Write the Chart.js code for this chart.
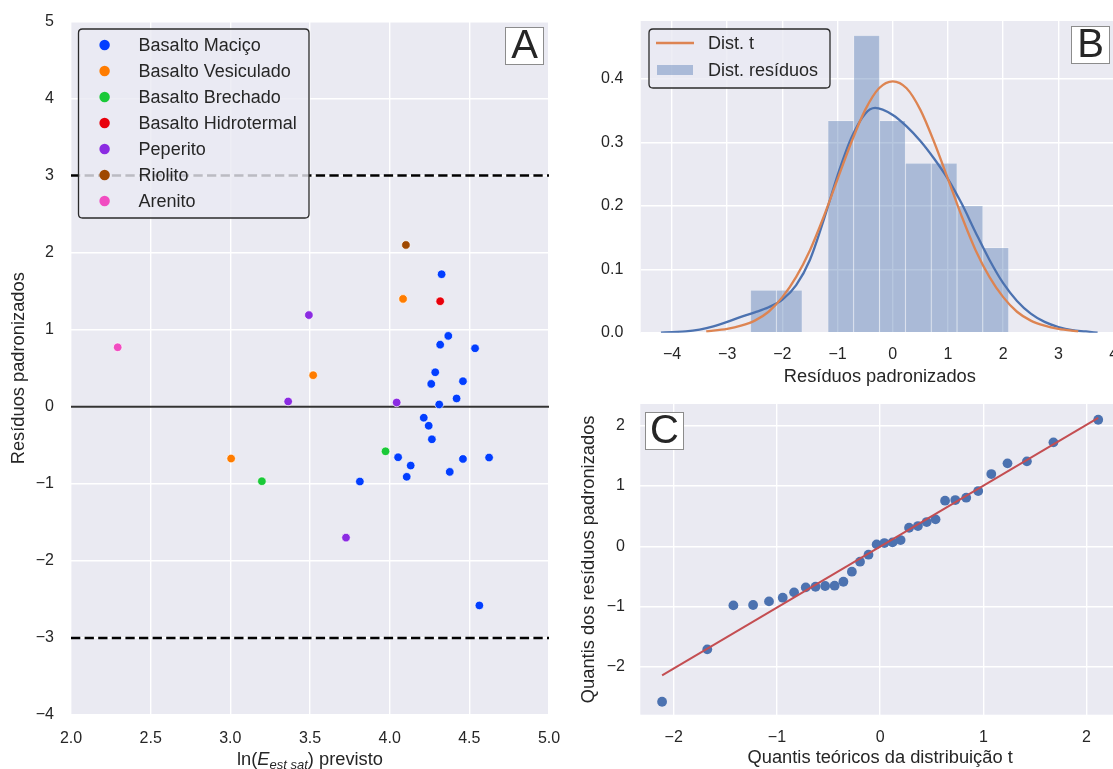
<!DOCTYPE html>
<html lang="pt">
<head>
<meta charset="utf-8">
<title>Resíduos padronizados</title>
<script src="https://cdn.jsdelivr.net/npm/chart.js@4.4.1/dist/chart.umd.min.js"></script>
<style>
  html, body { margin: 0; padding: 0; background: #ffffff; }
  body { width: 1113px; height: 769px; position: relative; overflow: hidden; }
  .painel { position: absolute; }
</style>
</head>
<body>
<div class="painel" style="left:0px; top:0px; width:580px; height:769px;"><canvas id="graficoA"></canvas></div>
<div class="painel" style="left:560px; top:0px; width:572px; height:390px;"><canvas id="graficoB"></canvas></div>
<div class="painel" style="left:560px; top:390px; width:572px; height:379px;"><canvas id="graficoC"></canvas></div>
<script>
// Painel A - residuos padronizados por litologia
var categorias = ['Basalto Maciço', 'Basalto Vesiculado', 'Basalto Brechado', 'Basalto Hidrotermal', 'Peperito', 'Riolito', 'Arenito']
var cores = ['#023EFF', '#FF7C00', '#1AC938', '#E8000B', '#8B2BE2', '#9F4800', '#F14CC1']

var macicoX = [4.326, 4.368, 4.317, 4.536, 4.286, 4.460, 4.261, 4.420, 4.311, 4.214, 4.245, 4.265, 4.053, 4.460, 4.624, 4.132, 4.377, 4.107, 3.813, 4.563]
var macicoY = [1.72, 0.92, 0.806, 0.759, 0.448, 0.332, 0.297, 0.108, 0.03, -0.142, -0.246, -0.422, -0.655, -0.677, -0.659, -0.763, -0.845, -0.909, -0.970, -2.578]
var vesiculadoX = [4.084, 3.520, 3.005]
var vesiculadoY = [1.40, 0.41, -0.672]
var brechadoX = [3.974, 3.198]
var brechadoY = [-0.578, -0.966]
var hidrotermalX = [4.317]
var hidrotermalY = [1.37]
var peperitoX = [3.493, 3.363, 4.044, 3.726]
var peperitoY = [1.19, 0.069, 0.056, -1.698]
var riolitoX = [4.102]
var riolitoY = [2.10]
var arenitoX = [2.293]
var arenitoY = [0.772]

var limites = [3, -3]
var ticksAx = [2.0, 2.5, 3.0, 3.5, 4.0, 4.5, 5.0]
var ticksAy = [-4, -3, -2, -1, 0, 1, 2, 3, 4, 5]

// Painel B - histograma (densidade), KDE e distribuicao t
var bordasBins = [-2.578, -2.110, -1.643, -1.175, -0.707, -0.240, 0.228, 0.696, 1.164, 1.631, 2.099]
var densidades = [0.067, 0.067, 0, 0.334, 0.468, 0.334, 0.267, 0.267, 0.200, 0.134]
var kdeX = [-4.2, -4.0, -3.75, -3.5, -3.25, -3.0, -2.75, -2.5, -2.25, -2.0, -1.75, -1.5, -1.25, -1.0, -0.75, -0.5, -0.32, 0.0, 0.25, 0.5, 0.75, 1.0, 1.25, 1.5, 1.75, 2.0, 2.25, 2.5, 2.75, 3.0, 3.25, 3.5, 3.71]
var kdeY = [0.000, 0.001, 0.002, 0.005, 0.010, 0.017, 0.025, 0.032, 0.040, 0.052, 0.075, 0.115, 0.178, 0.248, 0.307, 0.345, 0.354, 0.343, 0.325, 0.302, 0.274, 0.242, 0.203, 0.158, 0.115, 0.078, 0.050, 0.030, 0.017, 0.009, 0.004, 0.002, 0.000]
var distTX = [-3.38, -3.0, -2.75, -2.5, -2.25, -2.0, -1.75, -1.5, -1.25, -1.0, -0.75, -0.5, -0.25, 0.0, 0.25, 0.5, 0.75, 1.0, 1.25, 1.5, 1.75, 2.0, 2.25, 2.5, 2.75, 3.0, 3.36]
var distTY = [0.002, 0.006, 0.011, 0.019, 0.033, 0.056, 0.088, 0.130, 0.183, 0.242, 0.300, 0.351, 0.385, 0.396, 0.385, 0.351, 0.300, 0.242, 0.183, 0.130, 0.088, 0.056, 0.033, 0.019, 0.011, 0.006, 0.002]
var ticksBx = [-4, -3, -2, -1, 0, 1, 2, 3, 4]
var ticksBy = [0, 0.1, 0.2, 0.3, 0.4]

// Painel C - grafico Q-Q
var quantisT = [-2.113, -1.675, -1.422, -1.231, -1.077, -0.944, -0.834, -0.721, -0.626, -0.533, -0.441, -0.356, -0.274, -0.195, -0.113, -0.034, 0.041, 0.120, 0.198, 0.280, 0.366, 0.451, 0.537, 0.629, 0.728, 0.834, 0.950, 1.077, 1.234, 1.422, 1.679, 2.113]
var quantisRes = [-2.575, -1.707, -0.978, -0.972, -0.912, -0.851, -0.762, -0.680, -0.669, -0.657, -0.652, -0.586, -0.420, -0.254, -0.138, 0.033, 0.055, 0.066, 0.105, 0.309, 0.337, 0.403, 0.448, 0.757, 0.768, 0.807, 0.917, 1.199, 1.376, 1.409, 1.724, 2.099]
var retaX = [-2.113, 2.113]
var retaY = [-2.14, 2.13]
var ticksCx = [-2, -1, 0, 1, 2]
var ticksCy = [-2, -1, 0, 1, 2]

var fonte = '"Liberation Sans", Arial, Helvetica, sans-serif'
var corTexto = '#262626'
Chart.defaults.font.family = fonte
Chart.defaults.color = corTexto

function pontos(xs, ys) {
    return xs.map(function (x, i) { return { x: x, y: ys[i] } })
}

function fmt(v, casas) {
    if (Math.abs(v) < 1e-9) v = 0
    return v.toFixed(casas).replace('-', '\u2212')
}

// eixo linear no estilo seaborn (grade branca, sem borda)
function eixo(cfg) {
    return {
        type: 'linear',
        position: cfg.pos,
        min: cfg.min,
        max: cfg.max,
        offset: false,
        border: { display: false },
        grid: { color: '#ffffff', lineWidth: 1.4, drawTicks: false, offset: false },
        afterBuildTicks: function (s) {
            s.ticks = cfg.ticks.map(function (v) { return { value: v } })
        },
        ticks: {
            padding: cfg.pad, autoSkip: false, maxRotation: 0, minRotation: 0,
            color: corTexto, font: { size: 16 },
            callback: function (v) { return fmt(v, cfg.casas) }
        },
        title: {
            display: !!cfg.titulo, text: cfg.titulo || '', color: corTexto,
            font: { size: 18.3 }, padding: cfg.padTitulo || 0
        },
        afterFit: function (s) {
            if (cfg.pos === 'left') s.width = cfg.tam
            else s.height = cfg.tam
            s.paddingTop = 0; s.paddingBottom = 0; s.paddingLeft = 0; s.paddingRight = 0
        }
    }
}

var fundo = {
    id: 'fundo',
    beforeDraw: function (chart) {
        var a = chart.chartArea, ctx = chart.ctx
        ctx.save()
        ctx.fillStyle = '#EAEAF2'
        ctx.fillRect(a.left, a.top, a.right - a.left, a.bottom - a.top)
        ctx.restore()
    }
}

function retArredondado(ctx, x, y, w, h, r) {
    ctx.beginPath()
    ctx.moveTo(x + r, y)
    ctx.lineTo(x + w - r, y)
    ctx.quadraticCurveTo(x + w, y, x + w, y + r)
    ctx.lineTo(x + w, y + h - r)
    ctx.quadraticCurveTo(x + w, y + h, x + w - r, y + h)
    ctx.lineTo(x + r, y + h)
    ctx.quadraticCurveTo(x, y + h, x, y + h - r)
    ctx.lineTo(x, y + r)
    ctx.quadraticCurveTo(x, y, x + r, y)
    ctx.closePath()
}

function moldura(ctx, x, y, w, h) {
    retArredondado(ctx, x, y, w, h, 4)
    ctx.fillStyle = 'rgba(234,234,242,0.8)'
    ctx.fill()
    ctx.strokeStyle = '#2b2b2b'
    ctx.lineWidth = 1.3
    ctx.stroke()
}

function rotulo(ctx, letra, x, y) {
    ctx.save()
    ctx.fillStyle = '#ffffff'
    ctx.fillRect(x, y, 39, 38)
    ctx.strokeStyle = '#8c8c8c'
    ctx.lineWidth = 1
    ctx.strokeRect(x + 0.5, y + 0.5, 38, 37)
    ctx.fillStyle = corTexto
    ctx.font = '40px ' + fonte
    ctx.textAlign = 'center'
    ctx.textBaseline = 'middle'
    ctx.fillText(letra, x + 19.5, y + 20)
    ctx.restore()
}

// ---------------- Painel A ----------------
var seriesA = [[macicoX, macicoY], [vesiculadoX, vesiculadoY], [brechadoX, brechadoY], [hidrotermalX, hidrotermalY],
    [peperitoX, peperitoY], [riolitoX, riolitoY], [arenitoX, arenitoY]]

var datasetsA = seriesA.map(function (s, i) {
    return {
        type: 'scatter', label: categorias[i], data: pontos(s[0], s[1]),
        backgroundColor: cores[i], borderColor: '#ffffff', borderWidth: 0.7,
        pointRadius: 4.3, order: 0
    }
})
datasetsA.push({
    type: 'line', label: 'zero', data: pontos([ticksAx[0], ticksAx[ticksAx.length - 1]], [0, 0]),
    showLine: true, borderColor: '#333333', borderWidth: 2, pointRadius: 0, order: 5
})
limites.forEach(function (l) {
    datasetsA.push({
        type: 'line', label: 'limite', data: pontos([ticksAx[0], ticksAx[ticksAx.length - 1]], [l, l]),
        showLine: true, borderColor: '#000000', borderWidth: 2.5, borderDash: [9.3, 4.3],
        pointRadius: 0, order: 5
    })
})

var extrasA = {
    id: 'extrasA',
    afterDatasetsDraw: function (chart) {
        var ctx = chart.ctx
        ctx.save()
        moldura(ctx, 78.5, 29, 230.5, 189)
        ctx.font = '18px ' + fonte
        ctx.textBaseline = 'middle'
        chart.data.datasets.forEach(function (d, i) {
            if (d.type !== 'scatter') return
            var y = 45 + i * 26
            ctx.beginPath()
            ctx.arc(104.6, y, 5.2, 0, Math.PI * 2)
            ctx.fillStyle = d.backgroundColor
            ctx.fill()
            ctx.fillStyle = corTexto
            ctx.fillText(d.label, 138.6, y + 1)
        })
        ctx.restore()
    },
    afterDraw: function (chart) {
        var ctx = chart.ctx, a = chart.chartArea
        rotulo(ctx, 'A', 505, 27)
        // titulo do eixo x com subscrito
        var partes = [
            { t: 'ln(', f: '18.3px ' + fonte, dy: 0 },
            { t: 'E', f: 'italic 18.3px ' + fonte, dy: 0 },
            { t: 'est sat', f: 'italic 13px ' + fonte, dy: 4 },
            { t: ') previsto', f: '18.3px ' + fonte, dy: 0 }
        ]
        ctx.save()
        var total = 0
        partes.forEach(function (p) { ctx.font = p.f; p.w = ctx.measureText(p.t).width; total += p.w })
        var x = (a.left + a.right) / 2 - total / 2
        ctx.fillStyle = corTexto
        ctx.textBaseline = 'alphabetic'
        partes.forEach(function (p) {
            ctx.font = p.f
            ctx.fillText(p.t, x, 765 + p.dy)
            x += p.w
        })
        ctx.restore()
    }
}

new Chart(document.getElementById('graficoA'), {
    type: 'scatter',
    data: { datasets: datasetsA },
    options: {
        responsive: true, maintainAspectRatio: false, animation: false,
        layout: { padding: { left: 0, top: 21.5, right: 31, bottom: 0 } },
        plugins: { legend: { display: false }, tooltip: { enabled: false } },
        scales: {
            x: eixo({ pos: 'bottom', min: 2, max: 5, ticks: ticksAx, casas: 1, pad: 13.7, tam: 54 }),
            y: eixo({ pos: 'left', min: -4, max: 5, ticks: ticksAy, casas: 0, pad: 17, tam: 71,
                titulo: 'Resíduos padronizados', padTitulo: { top: 7.8 } })
        }
    },
    plugins: [fundo, extrasA]
})

// ---------------- Painel B ----------------
var centrosBins = densidades.map(function (d, i) { return (bordasBins[i] + bordasBins[i + 1]) / 2 })
var corBarra = 'rgba(76,114,176,0.4)'

var extrasB = {
    id: 'extrasB',
    afterDatasetsDraw: function (chart) {
        var ctx = chart.ctx
        ctx.save()
        moldura(ctx, 89, 29, 181, 59)
        ctx.strokeStyle = '#DD8452'
        ctx.lineWidth = 2.3
        ctx.beginPath()
        ctx.moveTo(96, 43)
        ctx.lineTo(134, 43)
        ctx.stroke()
        ctx.fillStyle = corBarra
        ctx.fillRect(97, 65, 36, 10)
        ctx.fillStyle = corTexto
        ctx.font = '18px ' + fonte
        ctx.textBaseline = 'middle'
        ctx.fillText(chart.data.datasets[2].label, 148, 44)
        ctx.fillText(chart.data.datasets[0].label, 148, 71)
        ctx.restore()
    },
    afterDraw: function (chart) {
        rotulo(chart.ctx, 'B', 511, 26)
    }
}

new Chart(document.getElementById('graficoB'), {
    type: 'bar',
    data: {
        datasets: [{
            type: 'bar', label: 'Dist. resíduos', data: pontos(centrosBins, densidades),
            backgroundColor: corBarra, borderColor: 'rgba(255,255,255,0.45)',
            borderWidth: { left: 0.6, right: 0.6, top: 0.6, bottom: 0 }, borderSkipped: false,
            barPercentage: 1, categoryPercentage: 1, order: 3
        }, {
            type: 'line', label: 'KDE', data: pontos(kdeX, kdeY), borderColor: '#4C72B0',
            borderWidth: 2.3, pointRadius: 0, cubicInterpolationMode: 'monotone', order: 2
        }, {
            type: 'line', label: 'Dist. t', data: pontos(distTX, distTY), borderColor: '#DD8452',
            borderWidth: 2.3, pointRadius: 0, cubicInterpolationMode: 'monotone', order: 1
        }]
    },
    options: {
        responsive: true, maintainAspectRatio: false, animation: false,
        layout: { padding: { left: 0, top: 21, right: 13, bottom: 0 } },
        plugins: { legend: { display: false }, tooltip: { enabled: false } },
        scales: {
            x: eixo({ pos: 'bottom', min: -4.567, max: 4.098, ticks: ticksBx, casas: 0, pad: 12, tam: 57.3,
                titulo: 'Resíduos padronizados', padTitulo: { bottom: 2.3 } }),
            y: eixo({ pos: 'left', min: 0, max: 0.491, ticks: ticksBy, casas: 1, pad: 17.4, tam: 80.7 })
        }
    },
    plugins: [fundo, extrasB]
})

// ---------------- Painel C ----------------
new Chart(document.getElementById('graficoC'), {
    type: 'scatter',
    data: {
        datasets: [{
            type: 'line', label: 'reta', data: pontos(retaX, retaY), showLine: true,
            borderColor: '#C44E52', borderWidth: 2, pointRadius: 0, order: 0
        }, {
            type: 'scatter', label: 'quantis', data: pontos(quantisT, quantisRes),
            backgroundColor: '#4C72B0', borderWidth: 0, pointRadius: 4.9, order: 1
        }]
    },
    options: {
        responsive: true, maintainAspectRatio: false, animation: false,
        layout: { padding: { left: 0, top: 14, right: 12, bottom: 0 } },
        plugins: { legend: { display: false }, tooltip: { enabled: false } },
        scales: {
            x: eixo({ pos: 'bottom', min: -2.324, max: 2.324, ticks: ticksCx, casas: 0, pad: 13.4, tam: 54.3,
                titulo: 'Quantis teóricos da distribuição t', padTitulo: { bottom: 0 } }),
            y: eixo({ pos: 'left', min: -2.79, max: 2.36, ticks: ticksCy, casas: 0, pad: 15.3, tam: 80.3,
                titulo: 'Quantis dos resíduos padronizados', padTitulo: { top: 18.2 } })
        }
    },
    plugins: [fundo, { id: 'extrasC', afterDraw: function (chart) { rotulo(chart.ctx, 'C', 85, 22) } }]
})
</script>
</body>
</html>
